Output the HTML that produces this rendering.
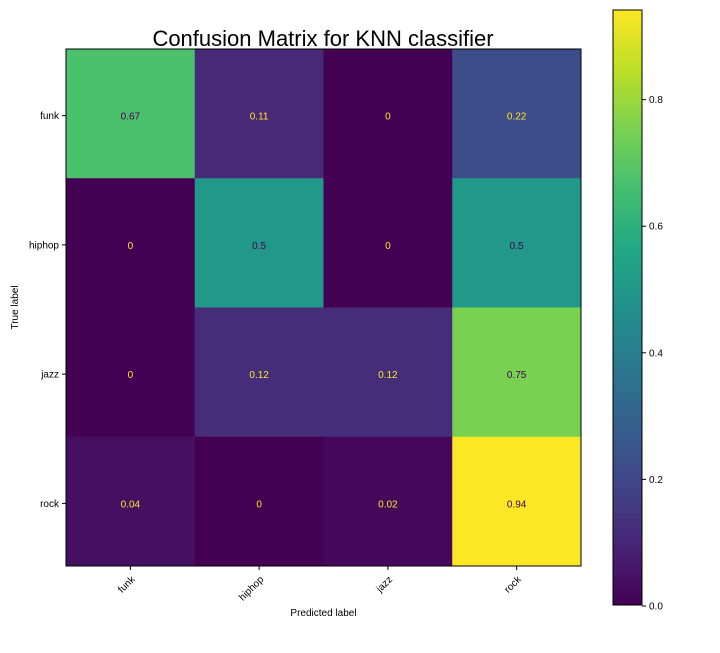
<!DOCTYPE html>
<html><head><meta charset="utf-8"><style>
body{margin:0;background:#fff;font-family:"Liberation Sans",sans-serif}
svg text{font-family:"Liberation Sans",sans-serif}
</style></head><body>
<svg id="c" width="720" height="648" xmlns="http://www.w3.org/2000/svg">
<text x="323" y="46" font-size="22" text-anchor="middle">Confusion Matrix for KNN classifier</text>
</svg>
<script>
const labels = ["funk","hiphop","jazz","rock"];
const row0 = [0.67,0.11,0,0.22];
const row1 = [0,0.5,0,0.5];
const row2 = [0,0.12,0.12,0.75];
const row3 = [0.04,0,0.02,0.94];
const cbTicks = [0.0,0.2,0.4,0.6,0.8];
const rows = [row0,row1,row2,row3];
const vmin = 0, vmax = 0.94;
const stops = ["#440154","#482475","#414487","#355f8d","#2a788e","#21918c","#22a884","#44bf70","#7ad151","#bddf26","#fde725"];
function hx(h){return [1,3,5].map(i=>parseInt(h.substr(i,2),16));}
function viridis(t){t=Math.max(0,Math.min(1,t));const f=t*10,i=Math.min(9,Math.floor(f)),r=f-i;const a=hx(stops[i]),b=hx(stops[i+1]);return "rgb("+a.map((v,k)=>Math.round(v+(b[k]-v)*r)).join(",")+")";}
const L=66,R=581,T=49,B=566;
const cw=(R-L)/labels.length, ch=(B-T)/labels.length;
const xs=j=>L+j*cw, ys=i=>T+i*ch;
const svg=document.getElementById("c");
const NS="http://www.w3.org/2000/svg";
function mk(tag,attrs,txt){const e=document.createElementNS(NS,tag);for(const k in attrs)e.setAttribute(k,attrs[k]);if(txt!==undefined)e.textContent=txt;svg.appendChild(e);return e;}
rows.forEach((row,i)=>row.forEach((v,j)=>{
 const r=mk("rect",{x:xs(j),y:ys(i),width:cw+0.5,height:ch+0.5,fill:viridis((v-vmin)/(vmax-vmin))});
 
 
 const t=mk("text",{x:xs(j)+cw/2,y:ys(i)+ch/2+6,"font-size":10,"text-anchor":"middle",fill:(v<(vmin+vmax)/2)?"#fde725":"#440154"},String(v));
 
 
}));
const fr=mk("rect",{x:L,y:T,width:R-L,height:B-T,fill:"none",stroke:"#000","stroke-width":1});


labels.forEach((lab,i)=>{
 const y=ys(i)+ch/2+2;
 mk("line",{x1:L-4,x2:L,y1:y,y2:y,stroke:"#000"});
 const t=mk("text",{x:L-7,y:y+3.5,"font-size":10,"text-anchor":"end"},lab);
 
 
 const x=xs(i)+cw/2;
 mk("line",{x1:x,x2:x,y1:B,y2:B+4,stroke:"#000"});
 const t2=mk("text",{x:x+5,y:B+14,"font-size":10,"text-anchor":"end",transform:"rotate(-45 "+(x+5)+" "+(B+14)+")"},lab);
 
 
});
const xl=mk("text",{x:(L+R)/2,y:616,"font-size":10,"text-anchor":"middle"},"Predicted label");


const yl=mk("text",{x:18,y:(T+B)/2,"font-size":10,"text-anchor":"middle",transform:"rotate(-90 18 "+((T+B)/2)+")"},"True label");


const CL=613,CR=642,CT=10,CB=605;
const defs=mk("defs",{});
const g=document.createElementNS(NS,"linearGradient");g.setAttribute("id","vg");g.setAttribute("x1","0");g.setAttribute("y1","1");g.setAttribute("x2","0");g.setAttribute("y2","0");
stops.forEach((s,k)=>{const st=document.createElementNS(NS,"stop");st.setAttribute("offset",k/10);st.setAttribute("stop-color",s);g.appendChild(st);});
defs.appendChild(g);
const cb=mk("rect",{x:CL,y:CT,width:CR-CL,height:CB-CT,fill:"url(#vg)",stroke:"#000","stroke-width":1});


const cy=v=>CB-(v-vmin)/(vmax-vmin)*(CB-CT);
cbTicks.forEach(v=>{
 mk("line",{x1:CR,x2:CR+4,y1:cy(v)+1,y2:cy(v)+1,stroke:"#000"});
 const t=mk("text",{x:CR+7,y:cy(v)+4.5,"font-size":10},v.toFixed(1));
 
 
});
</script>
</body></html>
